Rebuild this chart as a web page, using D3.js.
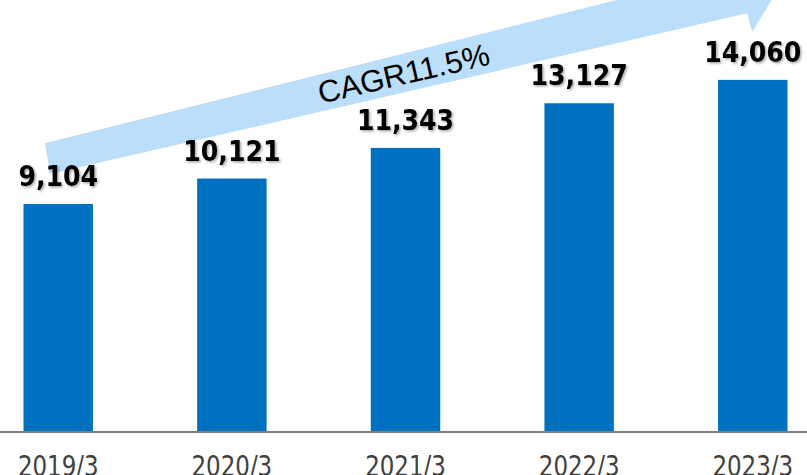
<!DOCTYPE html>
<html>
<head>
<meta charset="utf-8">
<script src="https://cdn.jsdelivr.net/npm/d3@7"></script>
<style>
  html, body { margin: 0; padding: 0; background: #fff; }
  svg { display: block; }
</style>
</head>
<body>
<script>
const years = ['2019/3', '2020/3', '2021/3', '2022/3', '2023/3'];
const values = [9104, 10121, 11343, 13127, 14060];
const cagrLabel = 'CAGR11.5%';

const width = 807, height = 475;
const baseY = 432;

const svg = d3.create('svg')
    .attr('width', width)
    .attr('height', height)
    .attr('viewBox', [0, 0, width, height]);

const defs = svg.append('defs');
defs.append('filter')
    .attr('id', 'shadow')
    .attr('x', '-10%').attr('y', '-20%')
    .attr('width', '130%').attr('height', '160%')
  .append('feDropShadow')
    .attr('dx', 1.5).attr('dy', 1.5)
    .attr('stdDeviation', 1)
    .attr('flood-color', '#000')
    .attr('flood-opacity', 0.35);

const x = d3.scaleBand()
    .domain(years)
    .range([23.5, 787.5])
    .paddingInner(0.6)
    .paddingOuter(0);

const y = d3.scaleLinear()
    .domain([0, 17250])
    .range([baseY, 0]);

// growth arrow (annotation), left end anchored on first bar
const ax0 = x(years[0]) + x.bandwidth() * 0.31;
const topSlope = -0.2507, botSlope = -0.2307;
const topY0 = 143.3, botY0 = 174;
const notchX = x(years[4]) + x.bandwidth() * 0.42;
const arrowPts = [
  [ax0, topY0],
  [ax0 + 5, botY0],
  [notchX, botY0 + (notchX - ax0 - 5) * botSlope],
  [notchX + 5, 31.7],
  [notchX + 36, -19],
  [notchX - 35, -75],
  [notchX - 25, topY0 + (notchX - 25 - ax0) * topSlope]
];
svg.append('path')
    .attr('d', d3.line()(arrowPts) + 'Z')
    .attr('fill', '#bbdefb');

svg.append('text')
    .attr('transform', 'translate(406,84) rotate(-13)')
    .attr('text-anchor', 'middle')
    .attr('font-family', '"Liberation Sans", Arial, sans-serif')
    .attr('font-size', 31)
    .attr('fill', '#000')
    .text(cagrLabel);

// bars
svg.append('g')
    .attr('fill', '#0070c0')
  .selectAll('rect')
  .data(values)
  .join('rect')
    .attr('x', (d, i) => x(years[i]))
    .attr('y', d => y(d))
    .attr('width', x.bandwidth())
    .attr('height', d => y(0) - y(d));

// value labels
svg.append('g')
    .attr('font-family', '"DejaVu Sans Condensed", "DejaVu Sans", sans-serif')
    .attr('font-stretch', 'condensed')
    .attr('font-weight', 'bold')
    .attr('font-size', 28)
    .attr('text-anchor', 'middle')
    .attr('fill', '#000')
    .attr('filter', 'url(#shadow)')
  .selectAll('text')
  .data(values)
  .join('text')
    .attr('x', (d, i) => x(years[i]) + x.bandwidth() / 2)
    .attr('y', d => y(d) - 18)
    .text(d => d3.format(',')(d));

// x axis
const gx = svg.append('g')
    .attr('transform', `translate(0,${baseY})`)
    .call(d3.axisBottom(x).tickSize(0).tickPadding(0));
gx.select('.domain')
    .attr('d', `M0,0H${width}`)
    .attr('stroke', '#7f7f7f')
    .attr('stroke-width', 2);
gx.selectAll('text')
    .attr('font-family', '"DejaVu Sans Condensed", "DejaVu Sans", sans-serif')
    .attr('font-stretch', 'condensed')
    .attr('font-size', 29)
    .attr('fill', '#404040')
    .attr('y', 44)
    .attr('dy', null)
    .attr('transform', 'scale(0.88,1)');

document.body.append(svg.node());
</script>
</body>
</html>
